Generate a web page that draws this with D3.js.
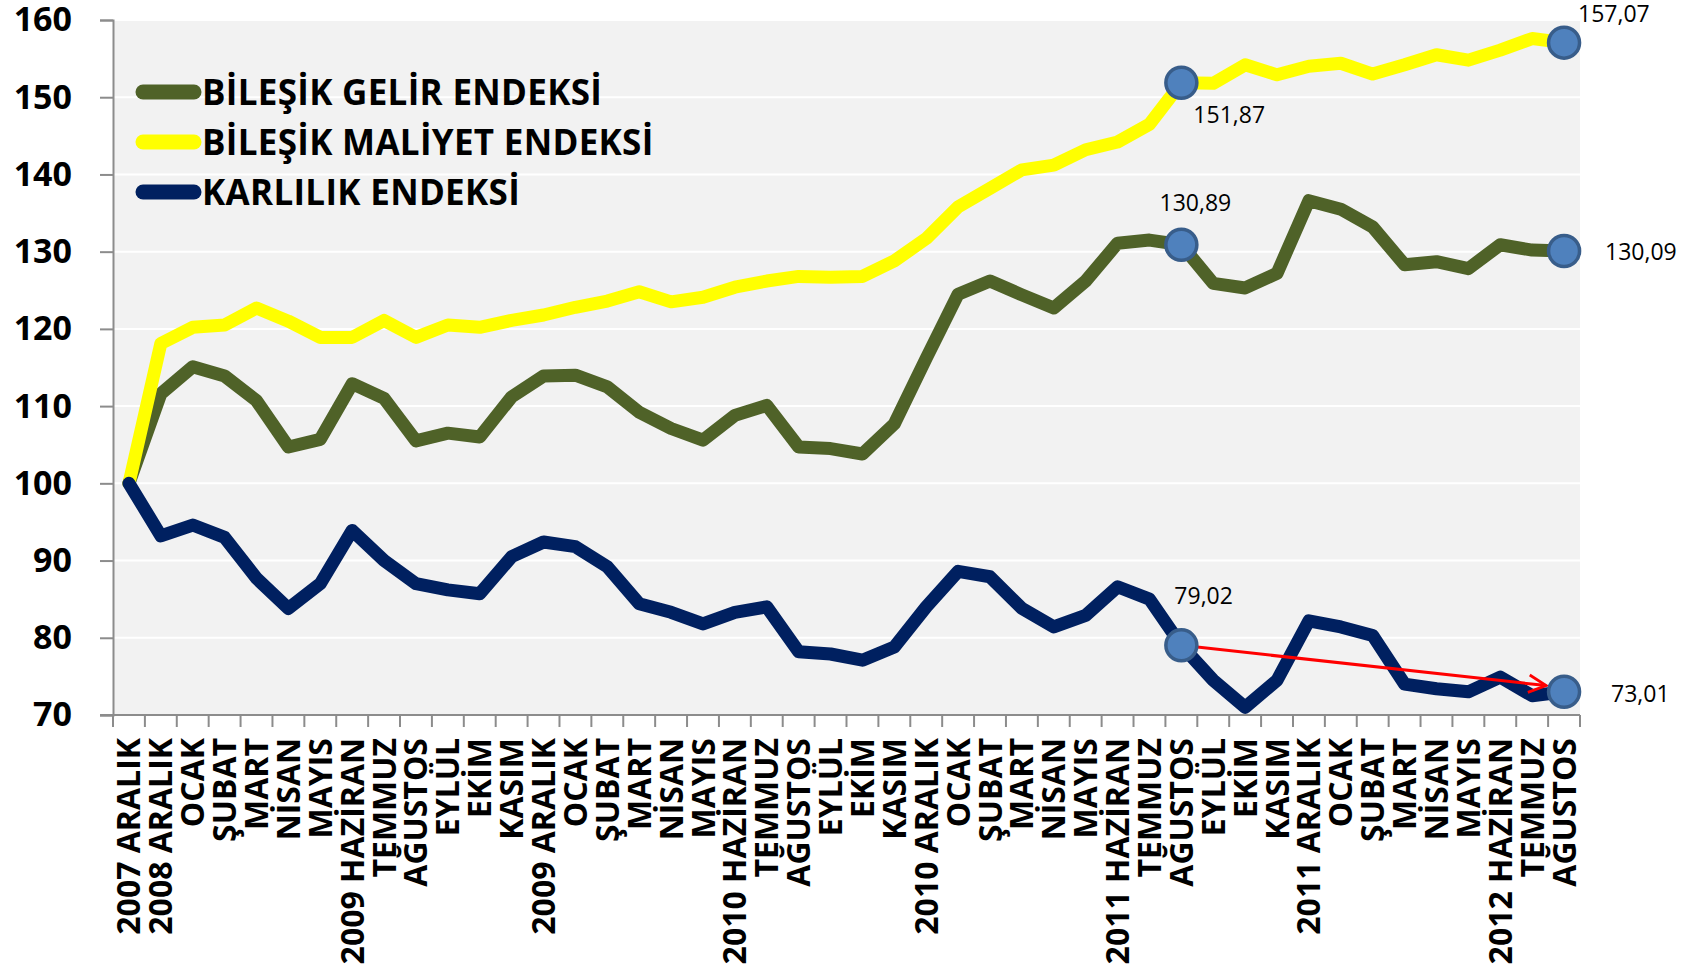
<!DOCTYPE html>
<html>
<head>
<meta charset="utf-8">
<script src="https://cdn.jsdelivr.net/npm/d3@7"></script>
<style>
  body { margin: 0; background: #fff; }
  svg text { font-family: "Open Sans", "Noto Sans", sans-serif; }
</style>
</head>
<body>
<div class="canvas"></div>
<script>
const categories = [
    '2007 ARALIK', '2008 ARALIK', 'OCAK', 'ŞUBAT', 'MART', 'NİSAN', 'MAYIS',
    '2009 HAZİRAN', 'TEMMUZ', 'AĞUSTOS', 'EYLÜL', 'EKİM', 'KASIM',
    '2009 ARALIK', 'OCAK', 'ŞUBAT', 'MART', 'NİSAN', 'MAYIS',
    '2010 HAZİRAN', 'TEMMUZ', 'AĞUSTOS', 'EYLÜL', 'EKİM', 'KASIM',
    '2010 ARALIK', 'OCAK', 'ŞUBAT', 'MART', 'NİSAN', 'MAYIS',
    '2011 HAZİRAN', 'TEMMUZ', 'AĞUSTOS', 'EYLÜL', 'EKİM', 'KASIM',
    '2011 ARALIK', 'OCAK', 'ŞUBAT', 'MART', 'NİSAN', 'MAYIS',
    '2012 HAZİRAN', 'TEMMUZ', 'AĞUSTOS'
]

const gelir = [
    100, 111.6, 115.1, 113.9, 110.7, 104.7, 105.7, 112.9, 111.0, 105.5, 106.5, 106.0,
    111.2, 113.9, 114.0, 112.5, 109.2, 107.1, 105.6, 108.8, 110.1, 104.7, 104.5, 103.8,
    107.7, 116.2, 124.5, 126.2, 124.4, 122.7, 126.2, 131.1, 131.5, 130.89, 125.9, 125.3,
    127.2, 136.6, 135.5, 133.2, 128.3, 128.7, 127.8, 130.9, 130.2, 130.09
]

const maliyet = [
    100, 118.1, 120.2, 120.5, 122.7, 121.0, 118.9, 118.9, 121.1, 118.9, 120.5, 120.2,
    121.1, 121.8, 122.8, 123.6, 124.8, 123.5, 124.1, 125.4, 126.2, 126.8, 126.7, 126.8,
    128.8, 131.7, 135.8, 138.2, 140.6, 141.2, 143.2, 144.2, 146.5, 151.87, 151.8, 154.2,
    152.9, 154.0, 154.4, 153.0, 154.2, 155.5, 154.8, 156.1, 157.6, 157.07
]

const karlilik = [
    100, 93.2, 94.6, 93.0, 87.7, 83.8, 87.0, 93.9, 90.0, 87.0, 86.2, 85.7,
    90.5, 92.4, 91.8, 89.2, 84.4, 83.3, 81.8, 83.3, 84.0, 78.2, 77.9, 77.1,
    78.8, 84.0, 88.6, 87.9, 83.8, 81.4, 82.9, 86.6, 85.0, 79.02, 74.5, 71.0,
    74.5, 82.2, 81.4, 80.3, 74.0, 73.4, 73.0, 74.9, 72.5, 73.01
]

const seriesNames = ['BİLEŞİK GELİR ENDEKSİ', 'BİLEŞİK MALİYET ENDEKSİ', 'KARLILIK ENDEKSİ']
const yTicks = [70, 80, 90, 100, 110, 120, 130, 140, 150, 160]
// points marked with a circle and a value label
const markedIdx = [33, 45]

const W = 1703, H = 968
const margins = { top: 20, right: 123, bottom: 253, left: 113 }
const gWidth = W - margins.left - margins.right
const gHeight = H - margins.top - margins.bottom

const svg = d3.select('.canvas').append('svg').attr('width', W).attr('height', H)
const graph = svg.append('g').attr('transform', `translate(${margins.left}, ${margins.top})`)

const x = d3.scaleBand().domain(d3.range(categories.length)).range([0, gWidth])
const y = d3.scaleLinear().domain([70, 160]).range([gHeight, 0])
const cx = i => x(i) + x.bandwidth() / 2

const commaFmt = d3.formatLocale({ decimal: ',', thousands: '.', grouping: [3], currency: ['', ''] }).format('.2f')

// plot background + gridlines
graph.append('rect').attr('width', gWidth).attr('height', gHeight).attr('fill', '#f2f2f2')
graph.append('g').selectAll('line').data(yTicks.slice(1)).enter().append('line')
    .attr('x1', 0).attr('x2', gWidth)
    .attr('y1', d => y(d)).attr('y2', d => y(d))
    .attr('stroke', '#ffffff').attr('stroke-width', 2)

// axes
const yAxis = d3.axisLeft(y).tickValues(yTicks).tickSize(13).tickPadding(28)
const xAxis = d3.axisBottom(x).tickSize(0).tickFormat(i => categories[i])

const yAxisGroup = graph.append('g').call(yAxis)
yAxisGroup.select('.domain').attr('stroke', '#8c8c8c').attr('stroke-width', 2)
yAxisGroup.selectAll('.tick line').attr('stroke', '#8c8c8c').attr('stroke-width', 2)
yAxisGroup.selectAll('text')
    .attr('font-size', 34).attr('font-weight', 700).attr('fill', '#000')
    .attr('font-family', '"Open Sans", sans-serif')

const xAxisGroup = graph.append('g').attr('transform', `translate(0, ${gHeight})`).call(xAxis)
xAxisGroup.select('.domain').remove()
xAxisGroup.selectAll('text')
    .attr('transform', 'rotate(-90)')
    .attr('text-anchor', 'end')
    .attr('x', -23).attr('y', 0).attr('dy', '0.36em')
    .attr('font-size', 32).attr('font-weight', 700).attr('fill', '#000')
    .attr('font-family', '"Open Sans", sans-serif')

// axis line and ticks between categories
graph.append('line').attr('x1', -13).attr('x2', gWidth).attr('y1', gHeight).attr('y2', gHeight)
    .attr('stroke', '#8c8c8c').attr('stroke-width', 2)
graph.append('g').selectAll('line').data(d3.range(categories.length + 1)).enter().append('line')
    .attr('x1', i => i * x.step()).attr('x2', i => i * x.step())
    .attr('y1', gHeight).attr('y2', gHeight + 12)
    .attr('stroke', '#8c8c8c').attr('stroke-width', 2)

// lines
const series = [
    { name: seriesNames[0], values: gelir, color: '#4f6228' },
    { name: seriesNames[1], values: maliyet, color: '#ffff00' },
    { name: seriesNames[2], values: karlilik, color: '#002060' }
]

const line = d3.line().x((d, i) => cx(i)).y(d => y(d))

graph.selectAll('path.series').data(series).enter().append('path')
    .attr('class', 'series')
    .attr('d', d => line(d.values))
    .attr('fill', 'none')
    .attr('stroke', d => d.color)
    .attr('stroke-width', 13)
    .attr('stroke-linejoin', 'round')
    .attr('stroke-linecap', 'round')

// red trend arrow between the two marked profitability points
svg.append('defs').append('marker')
    .attr('id', 'arrow').attr('viewBox', '0 0 12 12')
    .attr('refX', 11).attr('refY', 6)
    .attr('markerWidth', 7).attr('markerHeight', 7)
    .attr('markerUnits', 'strokeWidth')
    .attr('orient', 'auto')
    .append('path').attr('d', 'M1,1 L11,6 L1,11')
    .attr('fill', 'none').attr('stroke', '#ff0000').attr('stroke-width', 1.6)

const a0 = [cx(markedIdx[0]), y(karlilik[markedIdx[0]])]
const a1 = [cx(markedIdx[1]), y(karlilik[markedIdx[1]])]
const ang = Math.atan2(a1[1] - a0[1], a1[0] - a0[0])
graph.append('line')
    .attr('x1', a0[0]).attr('y1', a0[1])
    .attr('x2', a1[0] - 18 * Math.cos(ang)).attr('y2', a1[1] - 18 * Math.sin(ang) - 4)
    .attr('stroke', '#ff0000').attr('stroke-width', 3)
    .attr('marker-end', 'url(#arrow)')

// marked points with value labels (one row per series)
const labelPos = [
    [{ dx: 14, dy: -34, anchor: 'middle' }, { dx: 41, dy: 9, anchor: 'start' }],
    [{ dx: 12, dy: 40, anchor: 'start' }, { dx: 14, dy: -21, anchor: 'start' }],
    [{ dx: -7, dy: -41, anchor: 'start' }, { dx: 47, dy: 10, anchor: 'start' }]
]

series.forEach((s, si) => {
    markedIdx.forEach((idx, k) => {
        const px = cx(idx), py = y(s.values[idx])
        const lp = labelPos[si][k]
        graph.append('text')
            .attr('x', px + lp.dx).attr('y', py + lp.dy)
            .attr('text-anchor', lp.anchor)
            .attr('font-size', 23).attr('fill', '#000')
            .text(commaFmt(s.values[idx]))
    })
})

series.forEach(s => {
    graph.selectAll(null).data(markedIdx).enter().append('circle')
        .attr('cx', i => cx(i)).attr('cy', i => y(s.values[i]))
        .attr('r', 15.5)
        .attr('fill', '#4f81bd')
        .attr('stroke', '#385d8a').attr('stroke-width', 3.5)
})

// legend
const legend = graph.append('g').attr('transform', 'translate(30, 72)')
const rows = legend.selectAll('g').data(series).enter().append('g')
    .attr('transform', (d, i) => `translate(0, ${i * 50})`)
rows.append('line').attr('x1', 0).attr('x2', 51)
    .attr('stroke', d => d.color).attr('stroke-width', 15).attr('stroke-linecap', 'round')
rows.append('text').attr('x', 59).attr('dy', '0.36em')
    .attr('font-size', 35).attr('font-weight', 700).attr('fill', '#000')
    .attr('letter-spacing', 0.3)
    .text(d => d.name)
</script>
</body>
</html>
